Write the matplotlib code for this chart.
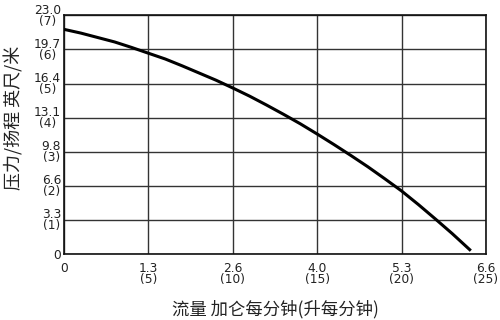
import matplotlib
matplotlib.use("Agg")
import matplotlib.pyplot as plt

plt.rcParams["font.family"] = ["Noto Sans CJK SC", "DejaVu Sans"]

# flow in L/min, head in m
flow_lpm = [0, 1, 2, 3, 4, 5, 6, 7, 8, 9, 10, 11, 12, 13, 14, 15, 16, 17, 18,
            19, 20, 21, 22, 23, 24.1]
head_m = [6.59, 6.48, 6.35, 6.22, 6.06, 5.89, 5.72, 5.52, 5.31, 5.10, 4.87, 4.63,
          4.37, 4.10, 3.82, 3.52, 3.21, 2.89, 2.56, 2.21, 1.85, 1.45, 1.03, 0.6, 0.1]

x_ticks = [0, 5, 10, 15, 20, 25]
x_labels = ["0", "1.3\n(5)", "2.6\n(10)", "4.0\n(15)", "5.3\n(20)", "6.6\n(25)"]
y_ticks = [0, 1, 2, 3, 4, 5, 6, 7]
y_labels = ["0", "3.3\n(1)", "6.6\n(2)", "9.8\n(3)", "13.1\n(4)", "16.4\n(5)", "19.7\n(6)", "23.0\n(7)"]

fig = plt.figure(figsize=(5, 3.2), dpi=100)
ax = fig.add_axes([0.128, 0.206, 0.844, 0.746])

ax.plot(flow_lpm, head_m, color="black", linewidth=2.2, solid_capstyle="butt", zorder=3)

ax.set_xlim(0, 25)
ax.set_ylim(0, 7)
ax.set_xticks(x_ticks)
ax.set_xticklabels(x_labels, family="DejaVu Sans", fontsize=8.8, linespacing=0.8)
ax.set_yticks(y_ticks)
ax.set_yticklabels(y_labels, family="DejaVu Sans", fontsize=8.8, linespacing=0.8,
                   multialignment="center")
ax.tick_params(length=0, colors="#222222")
ax.tick_params(axis="x", pad=6)
ax.tick_params(axis="y", pad=2)
ax.grid(True, color="#333333", linewidth=1.0)
for s in ax.spines.values():
    s.set_color("#111111")
    s.set_linewidth(1.2)

ax.set_xlabel("流量 加仑每分钟(升每分钟)", fontsize=12.5, color="#222222", labelpad=10)
ax.set_ylabel("压力/扬程 英尺/米", fontsize=13, color="#222222")
ax.yaxis.set_label_coords(-0.097, 0.57)

fig.savefig("out.png", dpi=100)
